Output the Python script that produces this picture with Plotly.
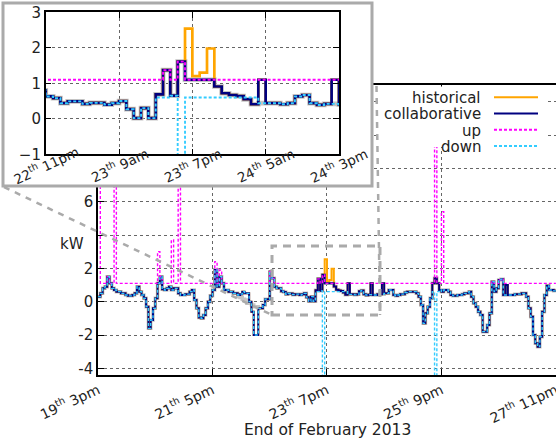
import plotly.graph_objects as go
from datetime import datetime, timedelta

# ---------------- data (hourly, starting 19 Feb 2013 3pm) ----------------
start = datetime(2013, 2, 19, 15)

collaborative = [
    0.3, 0.5, 0.8, 0.9, 1.5, 1.1, 0.8, 0.7, 0.6, 0.6,
    0.5, 0.5, 0.4, 0.35, 0.35, 0.4, 0.5, 0.9, 0.6, 0.4,
    0.2, -0.3, -1.6, -1.1, -0.4, 0.2, 1.1, 1.5, 0.75, 0.7,
    0.8, 0.9, 0.7, 0.8, 0.8, 0.5, 0.4, 0.4, 0.45, 0.45,
    0.6, 0.7, 0.1, -0.4, -0.95, -1.0, -0.8, -0.4, 0.0, 0.35,
    0.7, 1.9, 0.9, 1.5, 1.1, 0.7, 0.7, 0.6, 0.6, 0.5,
    0.5, 0.4, 0.45, 0.6, 0.5, 0.5, 0.0, -0.6, -2.0, -2.0,
    -0.4, -0.4, -0.2, 0.15, 0.15, 1.8, 1.4, 0.9, 0.8, 0.8,
    0.63, 0.58, 0.44, 0.49, 0.49, 0.42, 0.45, 0.45, 0.40, 0.44,
    0.50, 0.27, 0.02, 0.30, 0.02, 0.69, 1.37, 0.65, 1.61, 1.10,
    1.10, 1.10, 1.10, 0.91, 0.72, 0.67, 0.64, 0.55, 0.41, 1.10,
    0.44, 0.44, 0.41, 0.44, 0.63, 0.67, 0.44, 0.39, 0.42, 1.10,
    0.4, 0.4, 0.45, 0.45, 1.1, 0.5, 0.5, 0.7, 0.7, 0.4,
    0.35, 0.4, 0.45, 0.45, 0.55, 0.6, 0.6, 0.6, 0.6, 0.5,
    0.3, -0.2, -1.3, -0.7, -0.3, 0.2, 1.1, 1.4, 1.1, 0.7,
    0.6, 0.7, 0.7, 0.6, 0.4, 0.35, 0.35, 0.4, 0.4, 0.45,
    0.5, 0.5, 0.6, 0.3, -0.1, -0.3, -0.6, -0.8, -1.8, -1.8,
    -1.4, -0.7, 1.2, 0.6, 0.8, 1.3, 1.35, 0.4, 1.0, 0.4,
    0.4, 0.4, 0.45, 0.45, 0.45, 0.5, 0.5, 0.3, -0.4, -0.9,
    -2.0, -2.5, -2.7, -2.1, -0.6, 0.4, 0.95, 0.7, 0.7, 0.65,
]

# historical differs from collaborative only at these hours
historical_hours = [99, 100, 101, 102]
historical_vals = [2.54, 1.20, 1.30, 1.98]

# upper limit: flat level, with read-off deviations
up_level = 1.1
up_hours = [0, 4, 7, 26, 27, 32, 35, 51, 53, 75, 76, 96, 98, 147, 150, 172, 175, 176]
up_vals = [8.0, 1.5, 8.0, 3.0, 1.5, 3.7, 8.0, 2.4, 1.9, 1.8, 1.4, 1.37, 1.61, 10.0, 5.4, 1.2, 1.3, 1.35]

# lower limit: follows the load except at these hours
down_hours = [95, 96, 98, 99, 100, 101, 102, 103, 104, 105, 106, 107, 108, 109, 119, 124, 146, 147, 148, 178]
down_vals = [0.6, 0.6, -7.0, 0.6, 0.6, 0.6, 0.6, 0.6, 0.6, 0.6, 0.6, 0.6, 0.6, 0.44, 0.42, 0.45, 0.6, -7.0, 0.6, 0.4]

# light grey underlying load, differs from collaborative at these hours
grey_hours = [61, 62, 63, 64, 65, 66, 67, 68, 69, 109, 119, 124, 178]
grey_vals = [0.3, 0.25, 0.15, 0.1, -0.1, -0.1, -0.2, -0.3, -0.3, 0.44, 0.42, 0.45, 0.4]

main_tick_hours = [0, 50, 100, 150, 200]
main_tick_labels = ["19<sup>th</sup> 3pm", "21<sup>th</sup> 5pm", "23<sup>th</sup> 7pm",
                    "25<sup>th</sup> 9pm", "27<sup>th</sup> 11pm"]
inset_tick_hours = [80, 90, 100, 110, 120]
inset_tick_labels = ["22<sup>th</sup> 11pm", "23<sup>th</sup> 9am", "23<sup>th</sup> 7pm",
                     "24<sup>th</sup> 5am", "24<sup>th</sup> 3pm"]
main_yticks = [-4, -2, 0, 2, 4, 6, 8, 10, 12]
main_ytick_labels = ["-4", "-2", "0", "2", "", "6", "8", "10", "12"]
inset_yticks = [-1, 0, 1, 2, 3]

legend_names = ["historical", "collaborative", "up", "down"]

# ---------------- build series ----------------
def with_overrides(base, hours, vals):
    out = list(base)
    for h, v in zip(hours, vals):
        out[h] = v
    return out

n = len(collaborative)
historical = with_overrides(collaborative, historical_hours, historical_vals)
up = with_overrides([up_level] * n, up_hours, up_vals)
down = with_overrides(collaborative, down_hours, down_vals)
grey = with_overrides(collaborative, grey_hours, grey_vals)

t = [start + timedelta(hours=h) for h in range(n + 1)]
def ext(a):
    return list(a) + [a[-1]]

def H(h):
    return start + timedelta(hours=h)

FONT = "DejaVu Sans"
W, Hgt = 556, 441
def px(x):
    return x / W
def py(y):
    return (Hgt - y) / Hgt

C_HIST = "#ffa500"
C_COLL = "#000080"
C_UP = "#ff00ff"
C_DOWN = "#33ccff"
C_GREY = "#c4c4c4"
C_FRAME = "#aaaaaa"
C_TEXT = "#222222"

fig = go.Figure()

def add_series(xa, ya, scale):
    fig.add_trace(go.Scatter(x=t, y=ext(grey), mode="lines", line=dict(color=C_GREY, width=3.5 * scale, shape="hv"),
                             xaxis=xa, yaxis=ya, hoverinfo="skip"))
    fig.add_trace(go.Scatter(x=t, y=ext(historical), mode="lines", line=dict(color=C_HIST, width=2 * scale, shape="hv"),
                             xaxis=xa, yaxis=ya, name="historical"))
    fig.add_trace(go.Scatter(x=t, y=ext(collaborative), mode="lines", line=dict(color=C_COLL, width=2 * scale, shape="hv"),
                             xaxis=xa, yaxis=ya, name="collaborative"))
    fig.add_trace(go.Scatter(x=t, y=ext(up), mode="lines",
                             line=dict(color=C_UP, width=1.4 * scale, shape="hv", dash="3px,2px"),
                             xaxis=xa, yaxis=ya, name="up"))
    fig.add_trace(go.Scatter(x=t, y=ext(down), mode="lines",
                             line=dict(color=C_DOWN, width=1.4 * scale, shape="hv", dash="3px,2px"),
                             xaxis=xa, yaxis=ya, name="down"))

# main plot
add_series("x", "y", 1.0)
# white cover for inset box
fig.add_trace(go.Scatter(x=[0], y=[0], mode="markers", marker=dict(opacity=0), xaxis="x2", yaxis="y2",
                         hoverinfo="skip"))
# inset
add_series("x3", "y3", 1.35)

grid = dict(showgrid=True, gridcolor="#666666", griddash="dot", gridwidth=1, zeroline=False, automargin=False)
axline = dict(showline=True, linecolor="black", linewidth=1.5, ticks="inside", ticklen=6,
              tickcolor="black", ticklabeloverflow="allow")

fig.update_layout(
    template="none",
    width=W, height=Hgt, margin=dict(l=0, r=0, t=0, b=0, pad=0), autosize=False,
    paper_bgcolor="white", plot_bgcolor="white", showlegend=False,
    font=dict(family=FONT, size=15, color=C_TEXT),
    xaxis=dict(domain=[px(98), 1.0], anchor="y", range=[H(-0.02), H(200.05)], type="date",
               tickmode="array", tickvals=[H(h) for h in main_tick_hours], ticktext=main_tick_labels,
               tickangle=-25, mirror="ticks", tickfont=dict(family=FONT, size=14, color=C_TEXT), **grid, **axline),
    yaxis=dict(domain=[py(375), py(85)], anchor="x", range=[-4.4, 13], tickmode="array",
               tickvals=main_yticks, ticktext=main_ytick_labels, mirror=False,
               tickfont=dict(family=FONT, size=15, color=C_TEXT), **grid, **axline),
    xaxis2=dict(domain=[px(3), px(372)], anchor="y2", range=[0, 1], visible=False, automargin=False),
    yaxis2=dict(domain=[py(186), py(3)], anchor="x2", range=[0, 1], visible=False, automargin=False),
    xaxis3=dict(domain=[px(45.7), px(339)], anchor="y3", range=[H(79.99), H(120.01)], type="date",
                tickmode="array", tickvals=[H(h) for h in inset_tick_hours],
                ticktext=[""] * len(inset_tick_hours), mirror="ticks", **grid, **axline),
    yaxis3=dict(domain=[py(154.3), py(12.3)], anchor="x3", range=[-1, 3], tickmode="array",
                tickvals=inset_yticks, mirror="ticks", tickfont=dict(family=FONT, size=15, color=C_TEXT),
                **grid, **axline),
)

shapes = []
# inset frame
shapes.append(dict(type="rect", xref="paper", yref="paper", x0=px(3), x1=px(372), y0=py(186), y1=py(3),
                   line=dict(color=C_FRAME, width=3), layer="above"))
# legend background
shapes.append(dict(type="rect", xref="paper", yref="paper", x0=px(376), x1=px(547), y0=py(147), y1=py(86.5),
                   fillcolor="white", line=dict(width=0), layer="above"))
# zoom rectangle and connectors
shapes.append(dict(type="rect", xref="paper", yref="paper", x0=px(272), x1=px(380), y0=py(315), y1=py(246),
                   line=dict(color=C_FRAME, width=3, dash="8px,6px"), layer="above"))
shapes.append(dict(type="line", xref="paper", yref="paper", x0=px(4), y0=py(187), x1=px(272), y1=py(315),
                   line=dict(color=C_FRAME, width=2.5, dash="6px,6px"), layer="above"))
shapes.append(dict(type="line", xref="paper", yref="paper", x0=px(376.5), y0=py(86), x1=px(380), y1=py(315),
                   line=dict(color=C_FRAME, width=2.5, dash="6px,6px"), layer="above"))

annotations = []
# inset x tick labels: centred on their ticks, rotated
for h, lab in zip(inset_tick_hours, inset_tick_labels):
    annotations.append(dict(xref="x3", yref="paper", x=H(h), y=py(165), text=lab, showarrow=False,
                            textangle=-25, xanchor="center", yanchor="middle",
                            font=dict(family=FONT, size=13.5, color=C_TEXT)))

leg_colors = [C_HIST, C_COLL, C_UP, C_DOWN]
leg_dash = ["solid", "solid", "3px,2px", "3px,2px"]
leg_rows = [98, 114.3, 130.5, 146.7]
for name, c, d, yy in zip(legend_names, leg_colors, leg_dash, leg_rows):
    annotations.append(dict(xref="paper", yref="paper", x=px(483), y=py(yy), text=name, showarrow=False,
                            xanchor="right", yanchor="middle", font=dict(family=FONT, size=15, color=C_TEXT)))
    shapes.append(dict(type="line", xref="paper", yref="paper", x0=px(494), x1=px(538), y0=py(yy - 0.8), y1=py(yy - 0.8),
                       line=dict(color=c, width=2, dash=d), layer="above"))

annotations.append(dict(xref="paper", yref="paper", x=px(72), y=py(244), text="kW", showarrow=False,
                        xanchor="center", yanchor="middle", font=dict(family=FONT, size=15, color=C_TEXT)))
annotations.append(dict(xref="paper", yref="paper", x=px(327), y=py(430), text="End of February 2013",
                        showarrow=False, xanchor="center", yanchor="middle",
                        font=dict(family=FONT, size=15.5, color=C_TEXT)))

fig.update_layout(shapes=shapes, annotations=annotations)
fig.write_html("out.html", config={"displayModeBar": False},
               post_script="document.body.style.margin='0px';document.body.style.overflow='hidden';")
